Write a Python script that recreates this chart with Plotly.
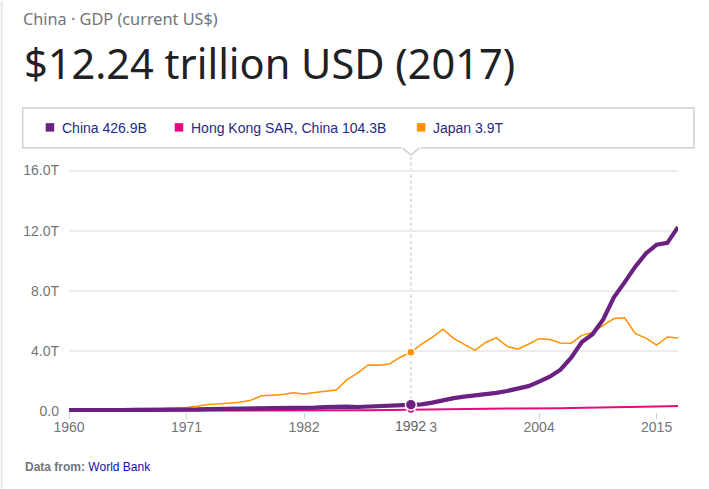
import plotly.graph_objects as go

# ---------------- data (GDP, current US$, billions) ----------------
years = list(range(1960, 2018))
china = [59.7, 50.1, 47.2, 50.7, 59.7, 70.4, 76.7, 72.9, 70.8, 79.7,
         92.6, 99.8, 113.7, 138.5, 144.2, 163.4, 153.9, 174.9, 149.5, 178.3,
         191.1, 195.9, 205.1, 230.7, 259.9, 309.5, 300.8, 272.9, 312.4, 348.0,
         360.9, 383.4, 426.9, 444.7, 564.3, 734.5, 863.7, 961.6, 1029.0, 1094.0,
         1211.3, 1339.4, 1470.6, 1660.3, 1955.3, 2286.0, 2752.1, 3552.2, 4598.2, 5110.0,
         6100.6, 7572.6, 8560.5, 9607.2, 10482.4, 11064.7, 11191.0, 12237.7]
hong_kong = [1.3, 1.4, 1.7, 2.0, 2.2, 2.4, 2.6, 2.7, 2.7, 3.2,
             3.8, 4.5, 5.6, 8.0, 9.3, 10.0, 12.9, 15.7, 18.3, 22.8,
             28.9, 31.1, 32.3, 29.9, 33.5, 35.7, 41.1, 50.6, 59.7, 68.8,
             76.9, 89.0, 104.3, 120.4, 135.8, 144.7, 159.7, 177.4, 168.9, 165.8,
             171.7, 169.4, 166.4, 161.4, 169.1, 181.6, 193.5, 211.6, 219.3, 214.0,
             228.6, 248.5, 262.6, 275.7, 291.5, 309.4, 320.9, 341.4]
japan = [44.3, 53.5, 60.7, 69.5, 81.7, 91.0, 105.6, 123.8, 146.6, 172.2,
         212.6, 240.2, 318.0, 432.1, 479.6, 521.5, 586.2, 721.4, 1013.6, 1055.0,
         1105.4, 1219.0, 1134.5, 1243.3, 1318.4, 1398.9, 2079.0, 2532.8, 3071.7, 3054.9,
         3132.8, 3584.4, 3908.8, 4454.1, 4907.0, 5449.1, 4833.7, 4414.7, 4032.5, 4562.1,
         4887.5, 4303.5, 4115.1, 4445.7, 4815.1, 4755.4, 4530.4, 4515.3, 5037.9, 5231.4,
         5700.1, 6157.5, 6203.2, 5155.7, 4850.4, 4389.5, 4926.7, 4860.0]

series_names = ["China", "Hong Kong SAR, China", "Japan"]
series_colors = ["#6a2181", "#e8087f", "#ff9100"]

x_tickvals = [1960, 1971, 1982, 1993, 2004, 2015]
y_tickvals = [0, 4000, 8000, 12000, 16000]
y_ticktext = ["0.0", "4.0T", "8.0T", "12.0T", "16.0T"]

hover_year = 1992
subtitle = "China · GDP (current US$)"
headline = "$12.24 trillion USD (2017)"

# ---------------- layout geometry (pixels) ----------------
FW, FH = 709, 489
L, R, T, B = 69.3, 678.0, 168.5, 412.2
W, H = R - L, B - T


def px(x):
    return (x - L) / W


def py(y):
    return (B - y) / H


def fmt(v):
    return f"{v/1000:.1f}T" if v >= 1000 else f"{v:.1f}B"


GRAY = "#70757a"
FONT = "Liberation Sans, Arial, sans-serif"
TFONT = "Noto Sans, Open Sans, sans-serif"

fig = go.Figure()
values = [china, hong_kong, japan]
widths = [4.2, 2, 1.5]
hi = years.index(hover_year)

# draw Japan, Hong Kong, then China on top
for idx in [2, 1, 0]:
    fig.add_trace(go.Scatter(x=years, y=values[idx], mode="lines",
                             line=dict(color=series_colors[idx], width=widths[idx]),
                             hoverinfo="skip", showlegend=False))

# hover markers
msizes = [11, 8, 8]
for idx in [1, 2, 0]:
    fig.add_trace(go.Scatter(x=[hover_year], y=[values[idx][hi]], mode="markers",
                             marker=dict(color=series_colors[idx], size=msizes[idx],
                                         line=dict(color="white", width=1.5)),
                             hoverinfo="skip", showlegend=False, cliponaxis=False))

shapes = []
annotations = []

# card left border
shapes.append(dict(type="line", xref="paper", yref="paper", x0=px(2), x1=px(2),
                   y0=py(0), y1=py(FH), line=dict(color="#e6e6e6", width=2)))

# hover dotted line
shapes.append(dict(type="line", xref="x", yref="paper", x0=hover_year, x1=hover_year,
                   y0=py(418), y1=py(155), line=dict(color="#bdbdbd", width=1, dash="dot"),
                   layer="below"))

# legend box
shapes.append(dict(type="rect", xref="paper", yref="paper", x0=px(23), x1=px(694),
                   y0=py(147.3), y1=py(107.3), line=dict(color="#cfcfcf", width=1.5),
                   fillcolor="white"))
# pointer triangle (white cover + border)
hx = L + (hover_year - years[0]) / (years[-1] - years[0]) * W
tri = (f"M {px(hx-8.5)} {py(147.3)} L {px(hx)} {py(154.5)} L {px(hx+8.5)} {py(147.3)} Z")
shapes.append(dict(type="path", xref="paper", yref="paper", path=tri,
                   fillcolor="white", line=dict(color="white", width=1.5)))
tri2 = (f"M {px(hx-8.5)} {py(147.3)} L {px(hx)} {py(154.5)} L {px(hx+8.5)} {py(147.3)}")
shapes.append(dict(type="path", xref="paper", yref="paper", path=tri2,
                   line=dict(color="#cfcfcf", width=1.5)))

# legend items
leg_sq_x = [46, 175, 417]
for i, name in enumerate(series_names):
    x0 = leg_sq_x[i]
    shapes.append(dict(type="rect", xref="paper", yref="paper", x0=px(x0), x1=px(x0 + 8.5),
                       y0=py(131), y1=py(122.5), line=dict(width=0),
                       fillcolor=series_colors[i]))
    annotations.append(dict(xref="paper", yref="paper", x=px(x0 + 14), y=py(127),
                            xanchor="left", yanchor="middle", showarrow=False,
                            text=f"{name} {fmt(values[i][hi])}",
                            font=dict(family=FONT, size=14, color="#1f2a86")))

# titles
annotations.append(dict(xref="paper", yref="paper", x=px(21), y=py(18),
                        xanchor="left", yanchor="middle", showarrow=False, text=subtitle,
                        font=dict(family=TFONT, size=16.3, color=GRAY)))
annotations.append(dict(xref="paper", yref="paper", x=px(22), y=py(62),
                        xanchor="left", yanchor="middle", showarrow=False, text=headline,
                        font=dict(family=TFONT, size=41.5, color="#202124")))

# footer
annotations.append(dict(xref="paper", yref="paper", x=px(23), y=py(467),
                        xanchor="left", yanchor="middle", showarrow=False,
                        text="<b>Data from:</b> <span style='color:#1a0dab'>World Bank</span>",
                        font=dict(family=FONT, size=12, color=GRAY)))

# hover year label (covers most of the 1993 tick label, as in the reference)
annotations.append(dict(xref="x", yref="paper", x=hover_year, y=py(426),
                        xanchor="center", yanchor="middle", showarrow=False,
                        text=str(hover_year), bgcolor="white", borderpad=3,
                        font=dict(family=FONT, size=14, color="#5f6368")))

fig.update_layout(
    width=FW, height=FH,
    margin=dict(l=L, r=FW - R, t=T, b=FH - B, pad=0),
    paper_bgcolor="white", plot_bgcolor="white",
    showlegend=False,
    shapes=shapes, annotations=annotations,
    xaxis=dict(range=[years[0], years[-1]], tickvals=x_tickvals,
               ticks="outside", ticklen=6, tickcolor="#d0d0d0", tickwidth=1,
               ticklabelstandoff=-4,
               showgrid=False, zeroline=False, showline=False,
               tickfont=dict(family=FONT, size=14, color=GRAY)),
    yaxis=dict(range=[-60, 16100], tickvals=y_tickvals, ticktext=y_ticktext,
               showgrid=True, gridcolor="#ececec", gridwidth=2,
               zeroline=False, showline=False, ticks="", ticklabelstandoff=9,
               tickfont=dict(family=FONT, size=14, color=GRAY)),
)

fig.write_html("out.html")
